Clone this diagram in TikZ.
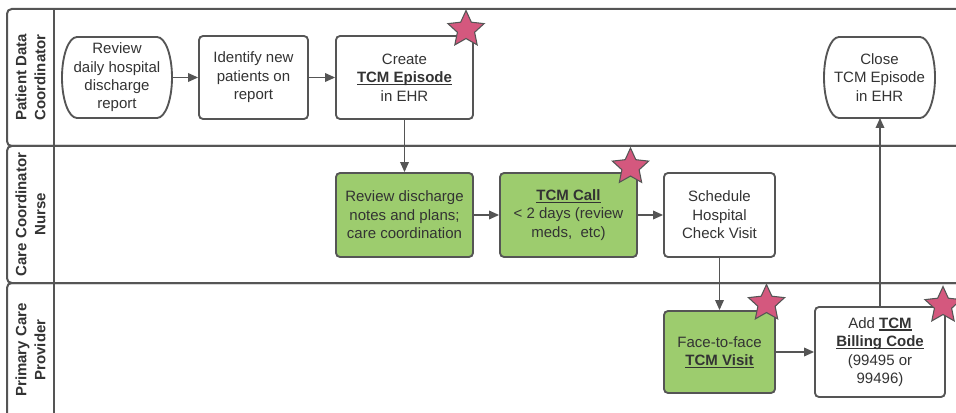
\documentclass[tikz,border=0pt]{standalone}
\usepackage{fontspec}
\setmainfont{Liberation Sans}
\usetikzlibrary{arrows.meta,shapes.geometric,calc}
\definecolor{ln}{HTML}{555555}
\definecolor{tx}{HTML}{333333}
\definecolor{gfill}{HTML}{9DCC6E}
\definecolor{starpink}{HTML}{D4587E}
\tikzset{
 lanefr/.style={draw=ln, line width=1.5pt, rounded corners=3.5pt},
 nodefont/.style={font=\fontsize{11.25}{13.8}\selectfont},
 box/.style={draw=ln, line width=1.4pt, rounded corners=3pt, fill=white, text=tx, align=center, inner sep=0pt, nodefont},
 greenbox/.style={box, fill=gfill},
 termtext/.style={text=tx, align=center, inner sep=0pt, outer sep=0pt, nodefont},
 termline/.style={draw=ln, line width=1.4pt},
 conn/.style={draw=ln, line width=1pt, -{Triangle[length=7.5pt,width=6.5pt]}},
 starmark/.style={star, star points=5, star point ratio=2.1, minimum size=28.5pt, inner sep=0pt, fill=starpink, draw=ln, line width=0.8pt},
 lanelabel/.style={rotate=90, text=tx, align=center, inner sep=0pt, font=\bfseries\fontsize{11.25}{14.3}\selectfont}
}
\newcommand{\ubf}[1]{{\setbox0\hbox{\textbf{#1}}\rlap{\rule[-1.7pt]{\wd0}{0.8pt}}\box0}}
\begin{document}
\begin{tikzpicture}[x=0.75pt,y=-0.75pt]
\useasboundingbox (0,0) rectangle (956,413);
\clip (0,0) rectangle (956,413);
% lanes
\draw[lanefr] (965,9) -- (7,9) -- (7,146) -- (965,146);
\draw[lanefr] (965,146) -- (7,146) -- (7,283) -- (965,283);
\draw[lanefr] (965,283) -- (7,283) -- (7,425);
\draw[lanefr] (54,9) -- (54,425);
\node[lanelabel] (l1) at (30.5,77.5) {Patient Data\\Coordinator};
\node[lanelabel] (l2) at (30.5,214.5) {Care Coordinator\\Nurse};
\node[lanelabel] (l3) at (30.5,350) {Primary Care\\Provider};
% nodes
\node[termtext, minimum width=82.5pt, minimum height=60.75pt] (n1) at (117,77.5) {Review\\daily hospital\\discharge\\report};
\draw[termline] ($(n1.north west)+(15,0)$) -- ($(n1.north east)+(-15,0)$) arc[start angle=-90, end angle=90, x radius=15, y radius=40.5] -- ($(n1.south west)+(15,0)$) arc[start angle=90, end angle=270, x radius=15, y radius=40.5] -- cycle;
\node[box, minimum width=81.75pt, minimum height=62.25pt] (n2) at (253.5,77.5) {Identify new\\patients on\\report};
\node[box, minimum width=102.75pt, minimum height=62.25pt] (n3) at (404.5,77.5) {Create\\\ubf{TCM Episode}\\in EHR};
\node[termtext, minimum width=83.25pt, minimum height=60.75pt] (n4) at (879.5,77.5) {Close\\TCM Episode\\in EHR};
\draw[termline] ($(n4.north west)+(15,0)$) -- ($(n4.north east)+(-15,0)$) arc[start angle=-90, end angle=90, x radius=15, y radius=40.5] -- ($(n4.south west)+(15,0)$) arc[start angle=90, end angle=270, x radius=15, y radius=40.5] -- cycle;
\node[greenbox, minimum width=102.75pt, minimum height=63pt] (n5) at (404.5,215) {Review discharge\\notes and plans;\\care coordination};
\node[greenbox, minimum width=102.75pt, minimum height=63pt] (n6) at (568.5,215) {\ubf{TCM Call}\\< 2 days (review\\meds,\ \ etc)};
\node[box, minimum width=83.25pt, minimum height=63pt] (n7) at (719.5,215) {Schedule\\Hospital\\Check Visit};
\node[greenbox, minimum width=83.25pt, minimum height=61.5pt] (n8) at (719.5,352) {Face-to-face\\\ubf{TCM Visit}};
\node[box, minimum width=97.5pt, minimum height=67.5pt] (n9) at (880,352) {Add \ubf{TCM}\\\ubf{Billing Code}\\(99495 or\\99496)};
% connectors
\draw[conn] (n1) -- (n2);
\draw[conn] (n2) -- (n3);
\draw[conn] (n3) -- (n5);
\draw[conn] (n5) -- (n6);
\draw[conn] (n6) -- (n7);
\draw[conn] (n7) -- (n8);
\draw[conn] (n8) -- (n9);
\draw[conn] (n9.north) -- (n9.north |- n4.south);
% stars
\node[starmark] (s1) at (466,29.5) {};
\node[starmark] (s2) at (630.5,167) {};
\node[starmark] (s3) at (766.5,303.5) {};
\node[starmark] (s4) at (943,305.5) {};
\end{tikzpicture}
\end{document}
